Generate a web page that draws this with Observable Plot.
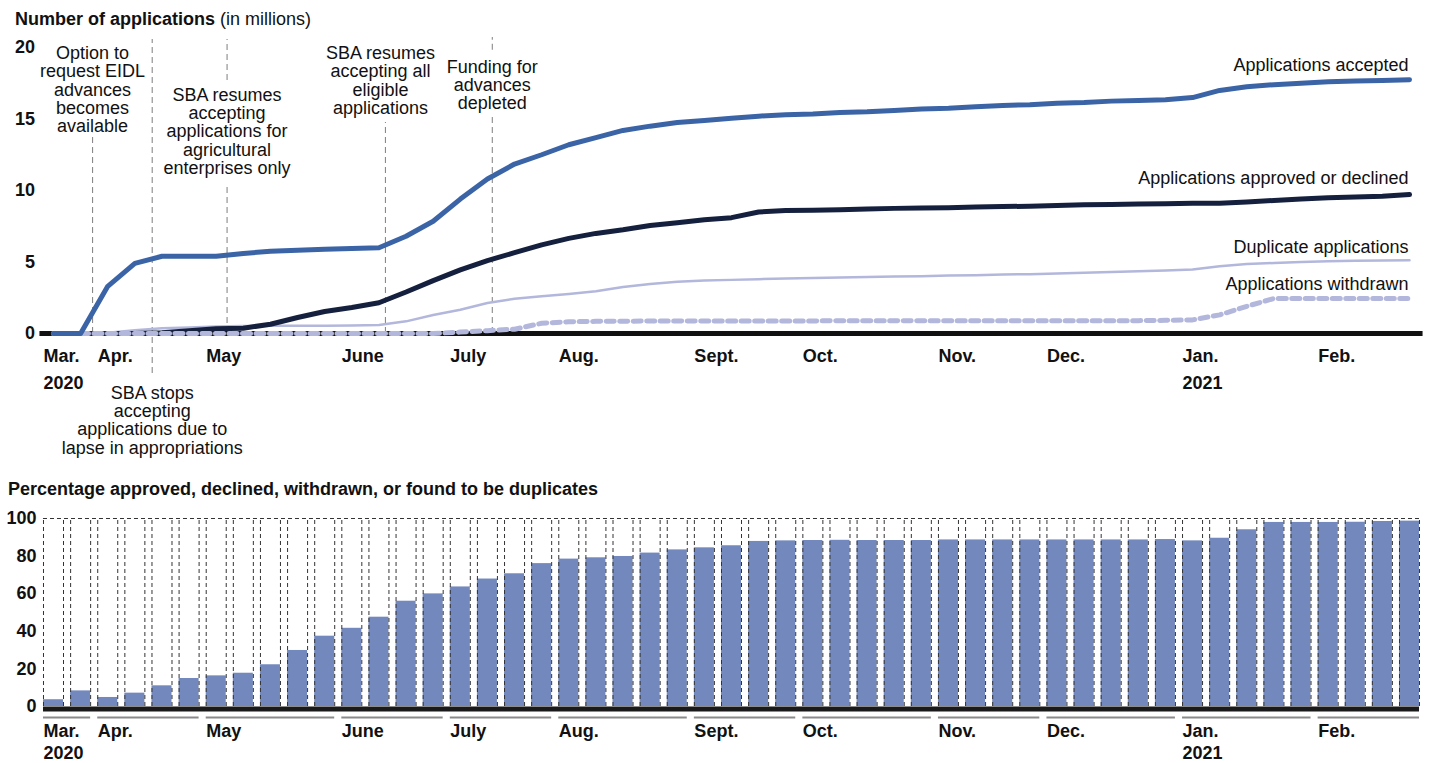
<!DOCTYPE html>
<html><head><meta charset="utf-8">
<script src="https://cdn.jsdelivr.net/npm/d3@7"></script>
<script src="https://cdn.jsdelivr.net/npm/@observablehq/plot@0.6"></script>
<style>
html,body{margin:0;padding:0;background:#fff;}
#wrap{position:relative;width:1429px;height:763px;overflow:hidden;font-family:"Liberation Sans",Arial,sans-serif;color:#111;}
.title{position:absolute;font-size:18px;line-height:18px;white-space:nowrap;z-index:2;}
#top,#bottom{position:absolute;left:0;}
#top{top:0px;}
#bottom{top:470px;}
</style></head><body>
<div id="wrap">
<div id="top"></div>
<div id="bottom"></div>
<div class="title" style="left:15px;top:9.5px"><b>Number of applications</b> (in millions)</div>
<div class="title" style="left:8px;top:480px"><b>Percentage approved, declined, withdrawn, or found to be duplicates</b></div>
</div>
<script>
// ---------- data ----------
const monthLabels = ["Mar.", "Apr.", "May", "June", "July", "Aug.", "Sept.", "Oct.", "Nov.", "Dec.", "Jan.", "Feb."];
const yearLabels  = ["2020", "", "", "", "", "", "", "", "", "", "2021", ""];
const weeksPerMonth = [2, 4, 5, 4, 4, 5, 4, 5, 4, 5, 5, 4];

const seriesNames = ["Applications accepted", "Applications approved or declined", "Duplicate applications", "Applications withdrawn"];

// cumulative applications, millions, one value per week
const accepted = [0, 0, 3.3, 4.9, 5.4, 5.4, 5.4, 5.6, 5.75, 5.82, 5.9, 5.95, 6.0,
  6.8, 7.85, 9.4, 10.8, 11.85, 12.5, 13.2, 13.7, 14.2, 14.5, 14.75, 14.9, 15.05, 15.2,
  15.3, 15.35, 15.45, 15.5, 15.6, 15.7, 15.75, 15.85, 15.95, 16.0, 16.1, 16.15, 16.25, 16.3, 16.35, 16.5,
  17.0, 17.25, 17.4, 17.5, 17.6, 17.65, 17.7, 17.75];
const approvedDeclined = [0, 0, 0, 0, 0.05, 0.2, 0.33, 0.37, 0.65, 1.12, 1.54, 1.82, 2.15,
  2.9, 3.7, 4.45, 5.1, 5.65, 6.2, 6.65, 7.0, 7.25, 7.55, 7.75, 7.95, 8.1, 8.5,
  8.6, 8.62, 8.65, 8.7, 8.75, 8.78, 8.8, 8.85, 8.88, 8.9, 8.95, 9.0, 9.02, 9.05, 9.08, 9.1,
  9.1, 9.2, 9.3, 9.4, 9.5, 9.55, 9.6, 9.72];
const duplicates = [0, 0, 0.05, 0.23, 0.37, 0.42, 0.49, 0.52, 0.54, 0.55, 0.55, 0.56, 0.6,
  0.85, 1.3, 1.66, 2.13, 2.43, 2.6, 2.76, 2.95, 3.25, 3.46, 3.62, 3.7, 3.75, 3.8,
  3.85, 3.88, 3.92, 3.95, 3.98, 4.0, 4.05, 4.08, 4.12, 4.15, 4.2, 4.25, 4.3, 4.35, 4.4, 4.47,
  4.7, 4.86, 4.93, 5.0, 5.05, 5.08, 5.1, 5.12];
const withdrawn = [0, 0, 0, 0, 0, 0, 0, 0, 0, 0, 0, 0, 0, 0, 0,
  0.1, 0.2, 0.3,
  0.72, 0.82, 0.85, 0.86, 0.87, 0.87, 0.88, 0.88, 0.88, 0.88, 0.88, 0.89, 0.89, 0.89,
  0.9, 0.9, 0.9, 0.9, 0.9, 0.9, 0.9, 0.9, 0.9, 0.92, 0.95,
  1.3, 1.9, 2.45, 2.45, 2.45, 2.45, 2.45, 2.45];

// percentage approved, declined, withdrawn or found to be duplicates, per week
const percentDone = [3.6, 8.3, 4.8, 7.1, 11, 14.9, 16.3, 17.7, 22.2, 29.8,
  37.4, 41.6, 47.5, 56, 59.9, 63.6, 67.8, 70.6, 76, 78.4,
  79.1, 79.8, 81.6, 83.3, 84.4, 85.5, 87.8, 88.1, 88.3, 88.4,
  88.3, 88.3, 88.3, 88.6, 88.6, 88.6, 88.6, 88.6, 88.6, 88.6,
  88.6, 88.8, 88.1, 89.5, 94, 97.9, 97.9, 97.9, 98.0, 98.4, 98.6];

const topTicks = [0, 5, 10, 15, 20];
const bottomTicks = [0, 20, 40, 60, 80, 100];

// events, positioned in weeks (fractional week index)
const events = [
  {at: 1.44,  label: "Option to\nrequest EIDL\nadvances\nbecomes\navailable"},
  {at: 3.64,  label: "SBA stops\naccepting\napplications due to\nlapse in appropriations"},
  {at: 6.40,  label: "SBA resumes\naccepting\napplications for\nagricultural\nenterprises only"},
  {at: 12.24, label: "SBA resumes\naccepting all\neligible\napplications"},
  {at: 16.18, label: "Funding for\nadvances\ndepleted"}
];

// ---------- derived ----------
const weekIndex = accepted.map((_, i) => i);
const lastWeek = weekIndex.length - 1;
const monthStart = weeksPerMonth.map((_, k) => d3.sum(weeksPerMonth.slice(0, k)));
const months = monthLabels.map((m, k) => ({label: m, year: yearLabels[k], start: monthStart[k], end: monthStart[k] + weeksPerMonth[k] - 1}));

// ---------- layout / style ----------
const W = 1429;
const HALF = 0.369;
const font = {fontFamily: "'Liberation Sans', Arial, sans-serif", fontSize: "18px", color: "#111", background: "transparent", overflow: "visible"};
const C = {accepted: "#3b64a6", approved: "#14203d", dup: "#b3b7dc", bar: "#7388bc", base: "#111"};

// annotation layout: text offsets (px from frame top) and dashed segments (millions)
const eventText = [
  {dy: -1.5, dx: 0},
  {dy: 338, dx: 0},
  {dy: 40, dx: 0},
  {dy: -1.5, dx: -5},
  {dy: 12, dx: 0}
];
const eventSegs = [
  {e: 0, y1: 0, y2: 14.0},
  {e: 1, y1: -2.8, y2: 20.56},
  {e: 2, y1: 17.7, y2: 20.56},
  {e: 2, y1: 0, y2: 10.35},
  {e: 3, y1: 0, y2: 14.75},
  {e: 4, y1: 19.8, y2: 20.7},
  {e: 4, y1: 0, y2: 15.25}
];
const seriesLabelY = [18.74, 10.86, 6.03, 3.48];

const topPlot = Plot.plot({
  width: W, height: 470,
  marginLeft: 39.44, marginRight: 6.44, marginTop: 47, marginBottom: 137,
  style: font,
  x: {domain: [-0.5, lastWeek + 0.5], axis: null},
  y: {domain: [0, 20], axis: null},
  marks: [
    Plot.ruleX(eventSegs, {x: d => events[d.e].at, y1: d => d.y1, y2: d => d.y2, stroke: "#8a8a8a", strokeWidth: 1.1, strokeDasharray: "6,4"}),
    ...events.map((ev, k) => Plot.text([ev], {x: "at", frameAnchor: "top", text: "label", textAnchor: "middle", lineAnchor: "top", lineHeight: 1.02, dx: eventText[k].dx, dy: eventText[k].dy, fill: "#111"})),
    Plot.ruleY([0], {stroke: C.base, strokeWidth: 5}),
    Plot.line(duplicates, {x: (d, i) => i, y: d => d, stroke: C.dup, strokeWidth: 2.5}),
    Plot.line(approvedDeclined, {x: (d, i) => i, y: d => d, stroke: C.approved, strokeWidth: 5}),
    Plot.line(withdrawn, {x: (d, i) => i, y: d => d, stroke: C.dup, strokeWidth: 5, strokeDasharray: "8,5.5"}),
    Plot.line(accepted, {x: (d, i) => i, y: d => d, stroke: C.accepted, strokeWidth: 5}),
    Plot.text(seriesNames, {x: () => lastWeek, y: (d, i) => seriesLabelY[i], text: d => d, textAnchor: "end", dx: -1, fill: "#111"}),
    Plot.text(topTicks, {frameAnchor: "left", y: d => d, text: d => String(d), textAnchor: "end", dx: -5, fontWeight: "bold", fill: "#111"}),
    Plot.text(months, {x: d => d.start - HALF, frameAnchor: "bottom", text: "label", textAnchor: "start", lineAnchor: "top", dy: 16, fontWeight: "bold", fill: "#111"}),
    Plot.text(months.filter(d => d.year), {x: d => d.start - HALF, frameAnchor: "bottom", text: "year", textAnchor: "start", lineAnchor: "top", dy: 43, fontWeight: "bold", fill: "#111"})
  ]
});
document.getElementById("top").appendChild(topPlot);

const edges = weekIndex.flatMap(i => [i - HALF, i + HALF]);
const bottomPlot = Plot.plot({
  width: W, height: 293,
  marginLeft: 39.44, marginRight: 6.44, marginTop: 48, marginBottom: 57,
  style: font,
  x: {domain: [-0.5, lastWeek + 0.5], axis: null},
  y: {domain: [0, 100], axis: null},
  marks: [
    Plot.rectY(weekIndex, {x1: i => i - HALF, x2: i => i + HALF, y1: () => 0, y2: i => percentDone[i], fill: C.bar}),
    Plot.ruleX(edges, {x: d => d, y1: () => 0, y2: () => 100, stroke: "#333", strokeWidth: 1, strokeDasharray: "4,3"}),
    Plot.ruleY([100], {x1: -HALF, x2: lastWeek + HALF, stroke: "#333", strokeWidth: 1, strokeDasharray: "4,3"}),
    Plot.ruleY([0], {x1: -HALF, x2: lastWeek + HALF, stroke: "#1a1a1a", strokeWidth: 5, dy: 2.5}),
    Plot.ruleY(months, {y: () => 0, x1: d => d.start - HALF, x2: d => d.end + HALF, stroke: "#8a8a8a", strokeWidth: 2, dy: 11}),
    Plot.text(bottomTicks, {frameAnchor: "left", y: d => d, text: d => String(d), textAnchor: "end", dx: -3.5, fontWeight: "bold", fill: "#111"}),
    Plot.text(months, {x: d => d.start - HALF, frameAnchor: "bottom", text: "label", textAnchor: "start", lineAnchor: "top", dy: 18, fontWeight: "bold", fill: "#111"}),
    Plot.text(months.filter(d => d.year), {x: d => d.start - HALF, frameAnchor: "bottom", text: "year", textAnchor: "start", lineAnchor: "top", dy: 40, fontWeight: "bold", fill: "#111"})
  ]
});
document.getElementById("bottom").appendChild(bottomPlot);
</script>
</body></html>
